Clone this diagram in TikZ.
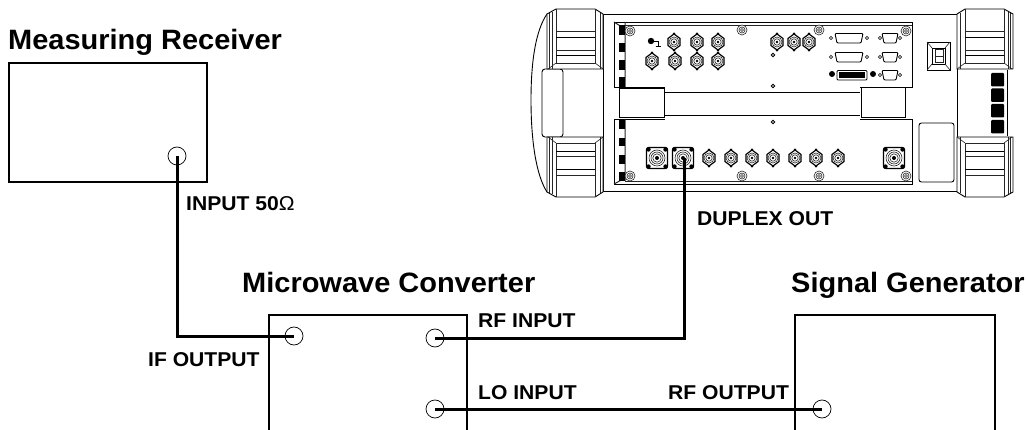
\documentclass[tikz,border=0pt]{standalone}
\usepackage{graphicx}
\usepackage{fontspec}
\setmainfont{Liberation Sans}
\newcommand{\wtitle}[1]{\scalebox{1.035}[1]{#1}}
\newcommand{\wlab}[1]{\scalebox{1.055}[1]{#1}}
\begin{document}
\begin{tikzpicture}[x=1pt,y=-1pt,
  box/.style={draw=black,line width=2pt},
  cable/.style={draw=black,line width=3pt},
  port/.style={circle,draw=black,line width=0.7pt,minimum size=18pt,inner sep=0pt},
  title/.style={anchor=base west,inner sep=0pt,font=\fontsize{28}{28}\selectfont\bfseries},
  lab/.style={anchor=base west,inner sep=0pt,font=\fontsize{20}{20}\selectfont\bfseries},
  dev/.style={draw=black,line width=0.9pt},
  devthin/.style={draw=black!85,line width=0.6pt}]
\useasboundingbox (0,0) rectangle (1028,430);
\fill[white] (0,0) rectangle (1028,430);
% ---------- helpers for the instrument drawing
\newcommand{\bumperpart}{%
  \draw[dev,fill=white] (547,14) -- (556,9) -- (595,9) -- (603,14) -- (603,69) -- (547,69) -- cycle;
  \draw[devthin] (549.5,13) -- (549.5,69) (552,12) -- (552,69) (600,13) -- (600,69);
  \draw[devthin] (556,9) -- (556,63) -- (595,63) -- (595,9);
  \draw[devthin] (556,63) -- (548,69) (595,63) -- (603,69);
  \draw[devthin] (556,31) -- (595,31) (556,50) -- (595,50);
  \draw[dev] (556,37) -- (595,37) (556,55) -- (595,55);
}
\newcommand{\nutconn}[2]{%
  \draw[dev,fill=white,line width=1.2pt] (#1,#2)+(90:8pt) -- +(30:7pt) -- +(-30:7pt) -- +(-90:8pt) -- +(-150:7pt) -- +(150:7pt) -- cycle;
  \fill[black] (#1,#2)+(90:8.3pt) circle (1.3pt) +(-90:8.3pt) circle (1.3pt);
  \draw[devthin] (#1,#2) circle (5pt) (#1,#2) circle (3.2pt);
  \fill[black] (#1,#2) circle (1.3pt);
}
\newcommand{\bigconn}[2]{%
  \draw[dev,fill=white,line width=1.1pt,rounded corners=2pt] (#1-10.5,#2-10.5) rectangle (#1+10.5,#2+10.5);
  \foreach \sx in {-8.5,8.5}\foreach \sy in {-8.5,8.5}\fill[black] (#1+\sx,#2+\sy) circle (2.2pt);
  \draw[devthin] (#1,#2) circle (8pt) (#1,#2) circle (6pt) (#1,#2) circle (4.2pt);
  \fill[black] (#1,#2) circle (2pt);
}
\newcommand{\screwtop}[2]{%
  \draw[devthin,fill=white] (#1,#2) circle (5pt) (#1,#2) circle (3pt);
  \draw[devthin] (#1,#2) circle (1.5pt);
}
\newcommand{\dbig}[2]{%
  \draw[dev,fill=white,rounded corners=1pt] (#1-14,#2-4.5) -- (#1+14,#2-4.5) -- (#1+12,#2+5) -- (#1-12,#2+5) -- cycle;
  \draw[devthin,fill=white] (#1-18,#2) circle (1.6pt) (#1+18,#2) circle (1.6pt);
}
\newcommand{\dsmall}[2]{%
  \draw[dev,fill=white,rounded corners=1pt] (#1-8,#2-4.5) -- (#1+8,#2-4.5) -- (#1+6,#2+5) -- (#1-6,#2+5) -- cycle;
  \draw[devthin,fill=white] (#1-10,#2) circle (1.6pt) (#1+10,#2) circle (1.6pt);
}
% ---------- instrument body
\draw[dev] (547,14) .. controls (536,30) and (531,60) .. (531,100) .. controls (531,140) and (536,175) .. (547,192);
\draw[dev,fill=white,rounded corners=3pt] (542,69) rectangle (563,137);
\draw[dev] (603,14) -- (957,14) (603,191) -- (957,191) (603,14) -- (603,191) (957,14) -- (957,191);
% bumpers
\bumperpart
\begin{scope}[shift={(0,206)},yscale=-1]\bumperpart\end{scope}
\begin{scope}[shift={(1560,0)},xscale=-1]\bumperpart\end{scope}
\begin{scope}[shift={(1560,206)},xscale=-1,yscale=-1]\bumperpart\end{scope}
% right edge and black keys
\draw[dev] (1007,70) -- (1007,136);
\foreach \ky in {73,88.5,104,120}\fill[black,rounded corners=1pt] (991,\ky) rectangle (1004,\ky+13.5);
% upper panel
\draw[dev] (665,87) -- (614,87) -- (614,22) -- (912,22) -- (912,87) -- (860,87);
\draw[devthin] (625,25) -- (912,25);
\draw[dev] (665,92) -- (860,92) (665,115) -- (860,115);
\draw[devthin,line width=1pt] (625,22) -- (625,87) (614,22) -- (625,29);
% lower panel
\draw[dev] (665,119) -- (614,119) -- (614,184) -- (912,184) -- (912,119) -- (860,119);
\draw[devthin] (625,181) -- (912,181);
\draw[devthin,line width=1pt] (625,119) -- (625,181) (614,184) -- (625,178);
% left black strip
\foreach \ya/\yb in {25/35,43/52,60/70,77/87,120/129,138/146,155/164,172/181}
  \fill[black] (619,\ya) rectangle (625,\yb);
% brackets
\draw[dev,line width=1pt,fill=white] (619,89) rectangle (664,118);
\draw[dev,line width=1pt,fill=white] (861,88) rectangle (905,118);
% screws
\foreach \sx/\sy in {630/31,742/30,819/30,906/31,630/176,742/176,819/176,906/176}{\screwtop{\sx}{\sy}}
% top-row connectors
\foreach \cx in {674,697,718,777,794,809}{\nutconn{\cx}{42}}
\foreach \cx in {652,675,697,718}{\nutconn{\cx}{61}}
% earth terminal
\fill[black] (651,41) circle (3.2pt);
\draw[dev] (651,41) -- (658,41) -- (658,46) (655.5,46) -- (660.5,46);
% small holes
\foreach \hy in {55,86,122}{\draw[dev,fill=white] (773,\hy) circle (1.7pt);}
% D-sub connectors
\dbig{849}{38}\dbig{849}{57}
\dsmall{890}{38}\dsmall{890}{57}\dsmall{890}{75}
\draw[dev,fill=white,rounded corners=1pt] (837,70.5) rectangle (867,80);
\fill[black] (839,72) rectangle (865,78.5);
\fill[black] (832,74) circle (3pt) (873,74) circle (3pt);
% switch
\draw[dev] (927,42) rectangle (950,70);
\draw[dev] (932,48) rectangle (945,64);
\draw[devthin] (935,49.5) rectangle (943,62.5) (935,56) -- (943,56);
\draw[devthin] (927,42) -- (932,48) (950,42) -- (945,48) (927,70) -- (932,64) (950,70) -- (945,64);
% window
\draw[dev,rounded corners=2.5pt] (919,123) rectangle (954,182);
% lower-row connectors
\foreach \cx in {709,731,752,773,795,816,838}{\nutconn{\cx}{158}}
\bigconn{657}{158}
\bigconn{894}{158}
\bigconn{683}{158}
% ---------- boxes
\draw[box] (8.5,63) rectangle (207,182);
\draw[box] (269,430) -- (269,315) -- (467,315) -- (467,430);
\draw[box] (795,430) -- (795,315) -- (995,315) -- (995,430);
% ---------- ports
\node[port] (input) at (177,156) {};
\node[port] (ifout) at (294,336) {};
\node[port] (rfin) at (435,338) {};
\node[port] (loin) at (435,409) {};
\node[port] (rfout) at (822,409) {};
\coordinate (duplex) at (684,158);
% ---------- cables
\draw[cable] (input.center) |- (ifout.center);
\draw[cable] (duplex) |- (rfin.center);
\draw[cable] (loin.center) -- (rfout.center);
% ---------- labels
\node[title] (tmr) at (8,50) {\wtitle{Measuring Receiver}};
\node[title] (tmc) at (242,293) {\wtitle{Microwave Converter}};
\node[title] (tsg) at (791,293) {\wtitle{Signal Generator}};
\node[lab] (l1) at (186,211) {\wlab{INPUT 50{\fontseries{m}\selectfont Ω}}};
\node[lab] (l2) at (697,226) {\wlab{DUPLEX OUT}};
\node[lab] (l3) at (478,327) {\wlab{RF INPUT}};
\node[lab] (l4) at (478,399) {\wlab{LO INPUT}};
\node[lab] (l5) at (668,399) {\wlab{RF OUTPUT}};
\node[lab] (l6) at (148,366) {\wlab{IF OUTPUT}};
\end{tikzpicture}
\end{document}
